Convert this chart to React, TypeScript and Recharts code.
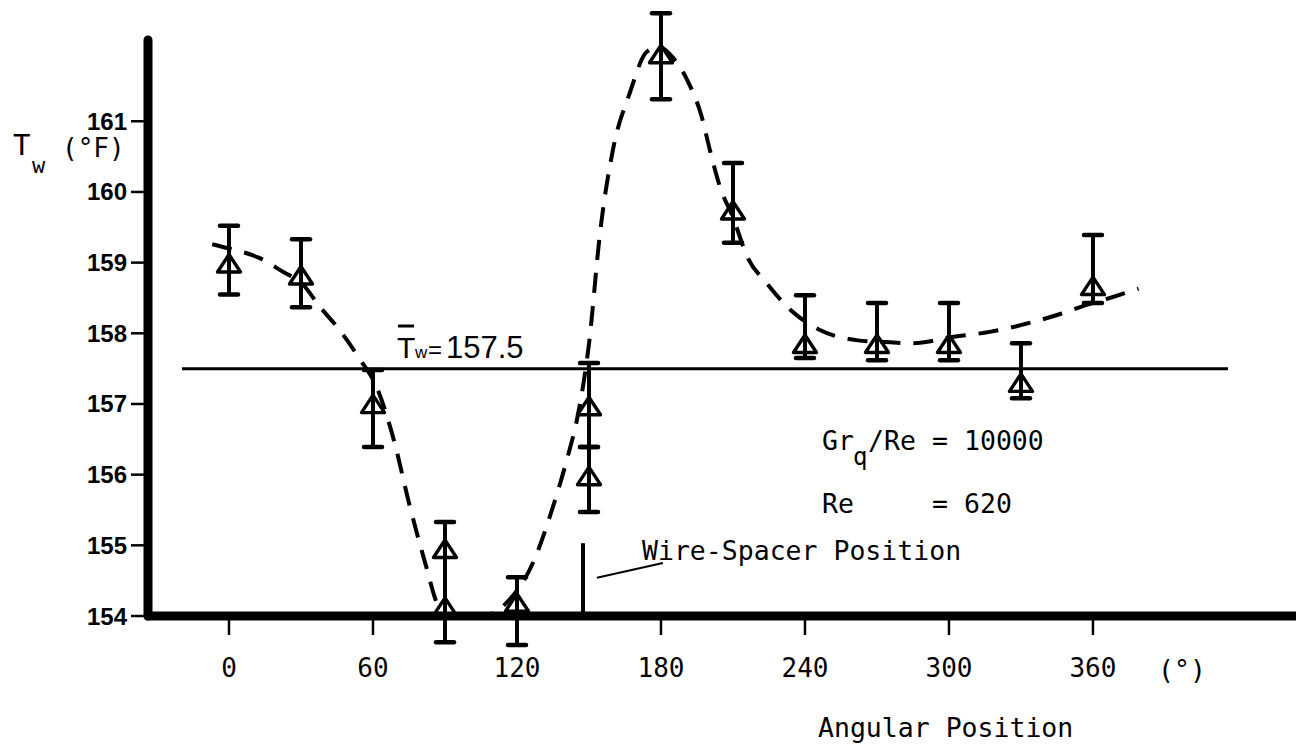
import React from 'react';
import { ComposedChart, XAxis, YAxis, Line, Scatter, ReferenceLine } from 'recharts';

// Axis ticks
const angleTicks = [0, 60, 120, 180, 240, 300, 360];
const tempTicks = [154, 155, 156, 157, 158, 159, 160, 161];

// Measured wall temperatures (triangles)
const pointDeg = [0, 30, 60, 90, 90, 120, 150, 150, 180, 210, 240, 270, 300, 330, 360];
const pointTw = [158.96, 158.79, 156.97, 154.92, 154.1, 154.16, 156.94, 155.95, 161.92, 159.71, 157.82, 157.82, 157.82, 157.27, 158.64];

// Scatter bands of the measurements
const barDeg = [0, 30, 60, 90, 120, 150, 150, 180, 210, 240, 270, 300, 330, 360];
const barLow = [158.55, 158.37, 156.39, 153.63, 153.59, 156.39, 155.47, 161.31, 159.28, 157.65, 157.62, 157.62, 157.08, 158.43];
const barHigh = [159.52, 159.33, 157.48, 155.33, 154.55, 157.58, 156.39, 162.53, 160.41, 158.54, 158.43, 158.43, 157.86, 159.39];

// Faired (dashed) curve through the data
const curveDeg = [-7, 0, 13, 23, 30, 38, 46, 54, 62, 69, 75, 82, 87, 91, 104, 110, 116, 127, 134, 141, 145, 150, 154.6, 160, 167, 174, 179, 185, 191, 197, 200.4, 204.6, 210, 216, 224, 234, 246, 262, 271, 285, 302, 317, 335, 347, 357, 367, 379];
const curveTw = [159.26, 159.2, 159.06, 158.86, 158.72, 158.37, 158.05, 157.66, 157.2, 156.45, 155.6, 154.72, 154.15, 154.0, 154.0, 154.04, 154.2, 154.78, 155.44, 156.24, 156.78, 157.85, 159.42, 160.6, 161.4, 161.98, 162.05, 161.9, 161.58, 161.06, 160.59, 160.07, 159.64, 159.08, 158.71, 158.33, 158.05, 157.9, 157.88, 157.86, 157.95, 158.02, 158.16, 158.28, 158.4, 158.5, 158.63];

// Mean wall temperature and its drawn extent
const meanTw = 157.5;
const meanSpan = [-19.6, 416.25];

// Wire-spacer marker and its leader
const spacerDeg = 147.5;
const spacerSpan = [154, 155.03];
const leaderFrom = { x: 153.3, y: 154.54 };
const leaderTo = { x: 180.8, y: 154.75 };

const xDomain = [-33.75, 444.6];
const yDomain = [154, 162.15];

const points = pointDeg.map((d, i) => ({ deg: d, tw: pointTw[i] }));
const curve = curveDeg.map((d, i) => ({ deg: d, tw: curveTw[i] }));
const bars = barDeg.map((d, i) => ({ deg: d, lo: barLow[i], hi: barHigh[i] }));

const MONO = '"DejaVu Sans Mono", "Liberation Mono", monospace';
const SANS = '"Liberation Sans", Arial, sans-serif';

const Triangle = (props: any) => {
  const { cx, cy } = props;
  if (cx == null || cy == null) return <g />;
  const d = `M ${cx} ${cy - 11} L ${cx + 11.5} ${cy + 6.5} L ${cx - 11.5} ${cy + 6.5} Z`;
  return <path d={d} fill="none" stroke="#000" strokeWidth={3.4} strokeLinejoin="round" />;
};

const BarShape = (props: any) => {
  const { x1, y1, x2, y2 } = props;
  const cap = 9;
  return (
    <g>
      <line x1={x1} y1={y1} x2={x2} y2={y2} stroke="#000" strokeWidth={4} />
      <line x1={x1 - cap} x2={x1 + cap} y1={y1} y2={y1} stroke="#000" strokeWidth={4.5} strokeLinecap="round" />
      <line x1={x2 - cap} x2={x2 + cap} y1={y2} y2={y2} stroke="#000" strokeWidth={4.5} strokeLinecap="round" />
    </g>
  );
};

export default function App() {
  return (
    <div style={{ position: 'absolute', left: 0, top: 0, width: 1296, height: 750, background: '#fff' }}>
      <ComposedChart
        width={1296}
        height={750}
        margin={{ top: 40, right: 0, bottom: 94, left: 0 }}
      >
        <XAxis
          type="number"
          dataKey="deg"
          domain={xDomain}
          ticks={angleTicks}
          interval={0}
          axisLine={{ stroke: '#000', strokeWidth: 9, strokeLinecap: 'round' }}
          tickLine={{ stroke: '#000', strokeWidth: 2.5 }}
          tickSize={19}
          tickMargin={24}
          height={40}
          tick={{ fill: '#000', fontFamily: MONO, fontSize: 26 }}
        />
        <YAxis
          type="number"
          domain={yDomain}
          ticks={tempTicks}
          interval={0}
          width={148}
          axisLine={{ stroke: '#000', strokeWidth: 9, strokeLinecap: 'round' }}
          tickLine={{ stroke: '#000', strokeWidth: 2.5 }}
          tickSize={17}
          tickMargin={4}
          tick={{ fill: '#000', fontFamily: SANS, fontWeight: 'bold', fontSize: 24 }}
        />
        <ReferenceLine
          segment={[{ x: meanSpan[0], y: meanTw }, { x: meanSpan[1], y: meanTw }]}
          stroke="#000"
          strokeWidth={3}
          ifOverflow="visible"
        />
        <ReferenceLine
          segment={[{ x: spacerDeg, y: spacerSpan[0] }, { x: spacerDeg, y: spacerSpan[1] }]}
          stroke="#000"
          strokeWidth={4}
          ifOverflow="visible"
        />
        <ReferenceLine
          segment={[leaderFrom, leaderTo]}
          stroke="#000"
          strokeWidth={2}
          ifOverflow="visible"
        />
        {bars.map((b, i) => (
          <ReferenceLine
            key={`bar-${i}`}
            segment={[{ x: b.deg, y: b.lo }, { x: b.deg, y: b.hi }]}
            stroke="#000"
            ifOverflow="visible"
            shape={BarShape}
          />
        ))}
        <Line
          data={curve}
          dataKey="tw"
          type="monotone"
          stroke="#000"
          strokeWidth={4}
          strokeDasharray="20 13"
          dot={false}
          activeDot={false}
          isAnimationActive={false}
        />
        <Scatter
          data={points}
          dataKey="tw"
          shape={Triangle}
          isAnimationActive={false}
        />
      </ComposedChart>
      <svg
        width={1296}
        height={750}
        style={{ position: 'absolute', left: 0, top: 0, pointerEvents: 'none' }}
      >
        {/* vertical axis title */}
        <text x={13} y={155} fontFamily={MONO} fontSize={29} fill="#000">T</text>
        <text x={32} y={173} fontFamily={MONO} fontSize={22} fill="#000">w</text>
        <text x={62} y={157} fontFamily={MONO} fontSize={26} fill="#000">(°F)</text>

        {/* mean temperature label */}
        <line x1={398} x2={414} y1={326} y2={326} stroke="#000" strokeWidth={3} />
        <text y={358} fontFamily={SANS} fill="#000">
          <tspan x={397} fontSize={30}>T</tspan>
          <tspan x={415} fontSize={17}>w</tspan>
          <tspan x={428} fontSize={24}>=</tspan>
          <tspan x={446} fontSize={31}>157.5</tspan>
        </text>

        {/* parameters */}
        <text y={450} fontFamily={MONO} fontSize={26.5} fill="#000">
          <tspan x={822}>Gr</tspan>
          <tspan x={853} dy={15} fontSize={24}>q</tspan>
          <tspan x={868} dy={-15}>/Re</tspan>
          <tspan x={932}>=</tspan>
          <tspan x={964}>10000</tspan>
        </text>
        <text y={513} fontFamily={MONO} fontSize={26.5} fill="#000">
          <tspan x={822}>Re</tspan>
          <tspan x={932}>=</tspan>
          <tspan x={964}>620</tspan>
        </text>

        <text x={642} y={560} fontFamily={MONO} fontSize={26.5} fill="#000">Wire-Spacer Position</text>

        {/* horizontal axis unit and title */}
        <text x={1158} y={679} fontFamily={MONO} fontSize={26.5} fill="#000">(°)</text>
        <text x={818} y={737} fontFamily={MONO} fontSize={26.5} fill="#000">Angular Position</text>
      </svg>
    </div>
  );
}
